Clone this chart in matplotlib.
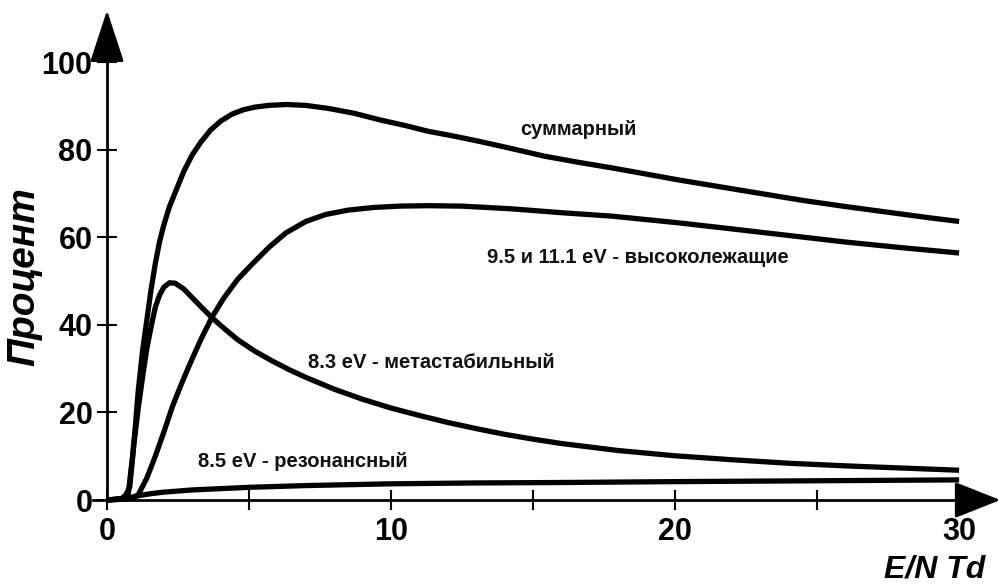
import matplotlib
matplotlib.use("Agg")
import matplotlib.pyplot as plt
from matplotlib.ticker import FixedLocator

plt.rcParams['font.family'] = ['Liberation Sans', 'DejaVu Sans']

# E/N, Td  and share of energy (percent) going into each excitation channel
total_x = [0, 0.5, 0.75, 0.9, 1.0, 1.1, 1.25, 1.4, 1.55, 1.7, 1.85, 2.0, 2.2, 2.45,
           2.7, 3.0, 3.3, 3.65, 4.0, 4.4, 4.8, 5.2, 5.7, 6.3, 7.0, 7.8, 8.7, 9.6,
           10.5, 11.3, 12.2, 13.1, 14.2, 15.4, 16.6, 17.8, 19, 20.1, 21.5, 23, 24.5,
           26, 27.5, 29, 30]
total_y = [0, 0.3, 1.5, 10, 17, 25, 34, 41, 48, 54, 59, 62.8, 67, 71,
           75, 78.8, 81.7, 84.5, 86.5, 88.1, 89.1, 89.7, 90.1, 90.3, 90.1, 89.4, 88.3, 86.8,
           85.5, 84.2, 83.1, 81.9, 80.3, 78.5, 77.1, 75.8, 74.4, 73.1, 71.6, 70, 68.4,
           67, 65.7, 64.4, 63.6]

high_x = [0, 0.9, 1.1, 1.4, 1.7, 2.0, 2.3, 2.6, 2.9, 3.3, 3.7, 4.1, 4.6, 5.1, 5.7,
          6.3, 7.0, 7.7, 8.5, 9.4, 10.3, 11.3, 12.5, 14.2, 16, 17.8, 20.1, 22, 24, 26,
          28, 30]
high_y = [0, 0.4, 1.2, 5, 10, 15.5, 21.3, 26.2, 30.8, 36.6, 41.8, 46, 50.4, 53.8, 57.7,
          61, 63.6, 65.2, 66.2, 66.8, 67.1, 67.2, 67.1, 66.5, 65.6, 64.8, 63.3, 61.9,
          60.4, 58.9, 57.6, 56.4]

meta_x = [0, 0.6, 0.8, 0.95, 1.1, 1.25, 1.4, 1.55, 1.7, 1.85, 2.0, 2.2, 2.4, 2.7,
          3.0, 3.3, 3.7, 4.1, 4.6, 5.2, 5.8, 6.4, 7.0, 8.0, 9.0, 10, 11, 12, 13, 14,
          15, 16, 18, 20, 22, 24, 26, 28, 30]
meta_y = [0, 0.4, 3, 13, 21, 28, 34.5, 39.5, 44, 46.8, 48.6, 49.6, 49.5, 48.2,
          46.2, 44.2, 41.6, 39.3, 36.6, 34, 31.8, 29.8, 28, 25.3, 23, 21, 19.3, 17.7,
          16.3, 15, 13.9, 12.9, 11.3, 10.1, 9.2, 8.4, 7.8, 7.3, 6.8]

res_x = [0, 0.6, 0.9, 1.2, 1.6, 2, 3, 4, 5, 7, 10, 13, 16, 20, 25, 30]
res_y = [0, 0.2, 0.7, 1.1, 1.5, 1.8, 2.3, 2.6, 2.9, 3.3, 3.7, 3.9, 4.0, 4.2, 4.4, 4.6]

x_major = [0, 10, 20, 30]
x_minor = [5, 15, 25]
y_major = [0, 20, 40, 60, 80, 100]

curve_labels = ["суммарный", "9.5 и 11.1 eV - высоколежащие",
                "8.3 eV - метастабильный", "8.5 eV - резонансный"]
label_pos = [(16.6, 84.7), (18.7, 55.3), (11.4, 31.5), (6.9, 8.7)]

fig = plt.figure(figsize=(10.02, 5.85), dpi=100)
ax = fig.add_axes([0, 0, 1, 1])
ax.set_xlim(-3.768, 31.51)
ax.set_ylim(-19.4, 114.16)

lw = 3.8
for xs, ys in [(total_x, total_y), (high_x, high_y), (meta_x, meta_y), (res_x, res_y)]:
    ax.plot(xs, ys, color='black', lw=lw, solid_capstyle='butt',
            solid_joinstyle='round', zorder=3)

for txt, (tx, ty) in zip(curve_labels, label_pos):
    ax.text(tx, ty, txt, ha='center', va='center', fontsize=14.5,
            fontweight='bold', color='#111111')

# axes through the origin
for s in ['top', 'right']:
    ax.spines[s].set_visible(False)
ax.spines['left'].set_position(('data', 0))
ax.spines['bottom'].set_position(('data', 0))
ax.spines['left'].set_bounds(0, 101)
ax.spines['bottom'].set_bounds(-0.5, 30)
for s in ['left', 'bottom']:
    ax.spines[s].set_linewidth(2)

ax.xaxis.set_major_locator(FixedLocator(x_major))
ax.xaxis.set_minor_locator(FixedLocator(x_minor))
ax.yaxis.set_major_locator(FixedLocator(y_major))
ax.tick_params(axis='both', which='both', direction='inout', length=15, width=1.5)
ax.tick_params(axis='x', which='major', pad=5)
ax.tick_params(axis='y', which='major', pad=3)
ax.tick_params(labelsize=22)
for lab in ax.get_xticklabels() + ax.get_yticklabels():
    lab.set_fontweight('bold')

# arrowheads at the axis ends
ax.annotate('', xy=(0, 111.8), xytext=(0, 100.5),
            arrowprops=dict(arrowstyle='-|>,head_length=3.3,head_width=1.08',
                            mutation_scale=10, color='black', lw=2,
                            shrinkA=0, shrinkB=0))
ax.annotate('', xy=(31.45, 0), xytext=(29.95, 0),
            arrowprops=dict(arrowstyle='-|>,head_length=2.9,head_width=1.15',
                            mutation_scale=10, color='black', lw=2,
                            shrinkA=0, shrinkB=0))

ax.text(0.024, 0.527, "Процент", transform=ax.transAxes, rotation=90,
        ha='center', va='center', fontsize=28, fontweight='bold', fontstyle='italic')
ax.text(0.983, 0.012, "E/N Td", transform=ax.transAxes, ha='right', va='baseline',
        fontsize=23, fontweight='bold', fontstyle='italic')

fig.savefig("out.png", dpi=100)
